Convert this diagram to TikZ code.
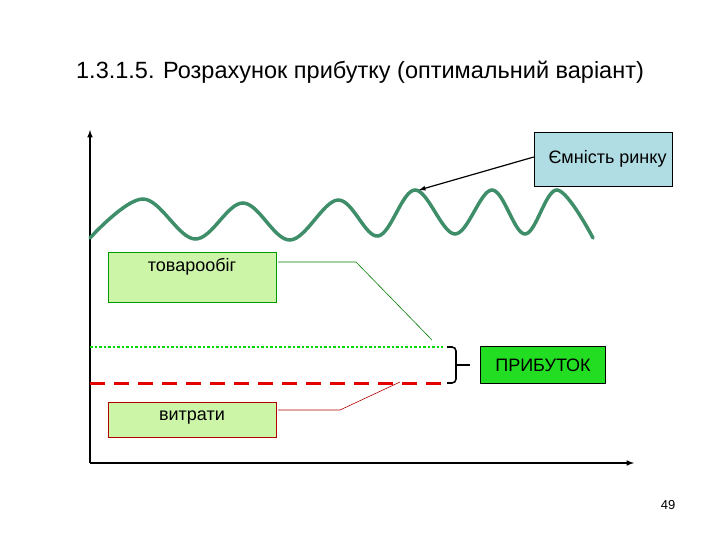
\documentclass[tikz,border=0pt]{standalone}
\usepackage{fontspec}
\setmainfont{Liberation Sans}
\usetikzlibrary{decorations.pathreplacing}
\begin{document}
\begin{tikzpicture}[x=1pt,y=-1pt,
  lbox/.style={draw, fill=lgreen, inner sep=0pt},
  lbl/.style={font=\fontsize{18}{20}\selectfont}]
\definecolor{lgreen}{HTML}{CCF5A8}
\definecolor{lblue}{HTML}{B0DCE4}
\definecolor{wave}{HTML}{3E8E6A}
\definecolor{pgreen}{HTML}{22DD22}
\useasboundingbox (0,0) rectangle (720,540);
\node[font=\fontsize{23.5}{26}\selectfont] (title) at (360,72) {1.3.1.5. Розрахунок прибутку (оптимальний варіант)};
\coordinate (o) at (90,463);
\coordinate (yt) at (90,130);
\coordinate (xt) at (634,463);
\draw[-latex, line width=1.5pt] (o) -- (yt);
\draw[-latex, line width=1.5pt] (o) -- (xt);
\draw[wave, line width=3.5pt, line cap=round] plot[smooth, tension=0.6] coordinates {(90,238) (143,199) (195,239) (243,203) (290,240) (338,200) (378,236) (415,190) (455,234) (492,190) (525,234) (557,190) (593,238)};
\node[draw, fill=lblue, minimum width=138pt, minimum height=54pt, inner sep=0pt] (em) at (603,159) {};
\node[lbl, anchor=west] (emt) at (545,159) {Ємність ринку};
\coordinate (wp) at (419,190);
\draw[-latex, line width=1.2pt] (em.west |- 0,157) -- (wp);
\node[lbox, draw=green!60!black, minimum width=168pt, minimum height=50pt] (tov) at (192,277) {};
\node[lbl] (tovt) at (192,267) {товарообіг};
\node[lbox, draw=red!70!black, minimum width=168pt, minimum height=35pt] (vyt) at (192,420) {};
\node[lbl] (vytt) at (192,418) {витрати};
\coordinate (g1) at (90,347); \coordinate (g2) at (443,347);
\coordinate (r1) at (90,383); \coordinate (r2) at (443,383);
\draw[green!85!black, line width=2.5pt, dotted] (g1) -- (g2);
\draw[red!90!black, line width=3pt, dash pattern=on 15pt off 9pt] (r1) -- (r2);
\draw[green!50!black, semithick] (tov.east |- 0,262) ++(2,0) -- (356,262) -- (432,340);
\draw[red!70!black, semithick] (vyt.east |- 0,410) ++(2,0) -- (340,410) -- (400,382);
\draw[line width=1.6pt, rounded corners=4pt] (447,347) -- (456,347) -- (456,383) -- (447,383);
\node[draw, fill=pgreen, minimum width=125pt, minimum height=37pt, lbl, inner sep=0pt] (pr) at (543,365) {ПРИБУТОК};
\draw[line width=2.5pt] (456,365) -- (470,365);
\node[font=\fontsize{13}{15}\selectfont] (pg) at (668,505) {49};
\end{tikzpicture}
\end{document}
